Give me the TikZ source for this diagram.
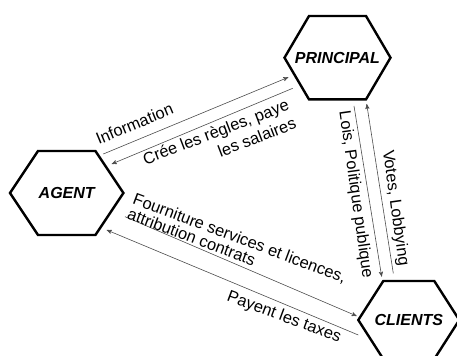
\documentclass[tikz,border=0pt]{standalone}
\usepackage{fontspec}
\setmainfont{Liberation Sans}
\usetikzlibrary{positioning}
\usetikzlibrary{arrows}
\usetikzlibrary{calc}

\begin{document}
\begin{tikzpicture}[->,>=stealth',x=0.75pt,y=-0.75pt,
                main node/.style={inner sep=0pt,font=\fontsize{12}{14}\selectfont\bfseries\itshape},
                hex line/.style={-,line width=1.8pt,black},
                flow/.style={->,line width=0.45pt,black!70},
                flow label/.style={inner sep=0pt,font=\fontsize{12.3}{14.8}\selectfont}]

  \useasboundingbox (0,0) rectangle (457,356);
  \clip (0,0) rectangle (457,356);

  \node[main node] (principal) at (337.5,57.7) {PRINCIPAL};
  \node[main node] (agent) at (66.7,193) {AGENT};
  \node[main node] (clients) at (408.8,320) {CLIENTS};

  % hexagons round the three actors
  \foreach \n/\w/\h/\t in {principal/53/41.7/28.5, agent/56.7/42/28.7, clients/50.5/39/25.5}
    \draw[hex line] ($(\n)+(-\w,0)$) -- ($(\n)+(-\t,-\h)$) -- ($(\n)+(\t,-\h)$)
      -- ($(\n)+(\w,0)$) -- ($(\n)+(\t,\h)$) -- ($(\n)+(-\t,\h)$) -- cycle;

  \draw[flow] ($(agent)+(36.6,-39)$) -- ($(principal)+(-49.2,19.6)$);
  \draw[flow] ($(principal)+(-44.8,30.6)$) -- ($(agent)+(45,-29)$);
  \draw[flow] ($(agent)+(58.3,23.7)$) -- ($(clients)+(-52.1,-4)$);
  \draw[flow] ($(clients)+(-50.5,15)$) -- ($(agent)+(40,37)$);
  \draw[flow] ($(principal)+(16.5,48.3)$) -- ($(clients)+(-27.1,-43.3)$);
  \draw[flow] ($(clients)+(-15.5,-46.7)$) -- ($(principal)+(29.2,46.3)$);

  \node[flow label,anchor=base,rotate=22.5] (info) at (136.7,129.2) {Information};
  \node[flow label,anchor=north east,align=right,rotate=21] (rules) at (286,98)
    {Crée les règles, paye\\les salaires};
  \node[flow label,anchor=north west,align=left,rotate=-20.5,
        font=\fontsize{12.3}{11.8}\selectfont] (supply) at (136,192.5)
    {Fourniture services et licences,\\attribution contrats};
  \node[flow label,anchor=base,rotate=-20.5] (taxes) at (282.5,321.5) {Payent les taxes};
  \node[flow label,anchor=base,rotate=-82] (laws) at (351.2,195.5) {Lois, Politique publique};
  \node[flow label,anchor=base,rotate=-82] (votes) at (391,208.8) {Votes, Lobbying};

\end{tikzpicture}
\end{document}
